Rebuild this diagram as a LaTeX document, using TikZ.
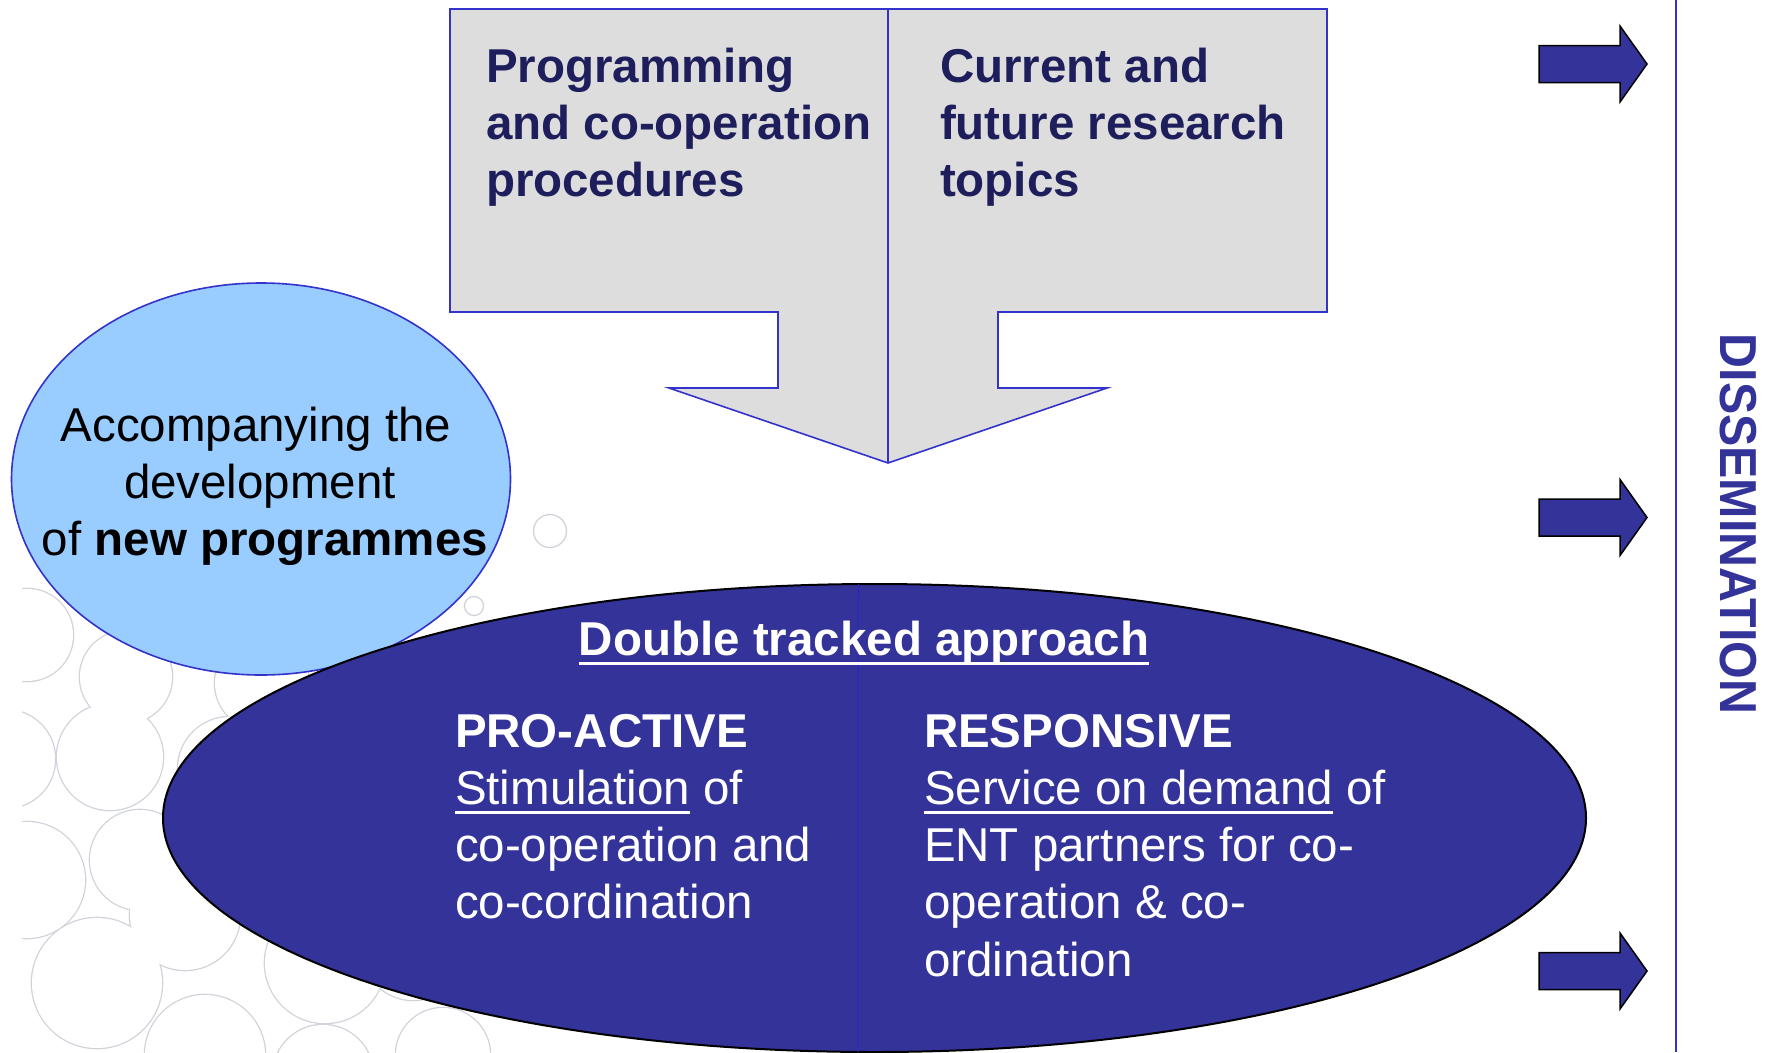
\documentclass[tikz,border=0pt]{standalone}
\usepackage{fontspec}
\setmainfont{Liberation Sans}
\newfontfamily\narrowfont[FakeStretch=0.93]{Liberation Sans}
\usetikzlibrary{shapes.geometric}
\definecolor{navy}{RGB}{30,30,92}
\definecolor{ellblue}{RGB}{51,51,153}
\definecolor{lineblue}{RGB}{51,51,204}
\definecolor{divblue}{RGB}{40,40,190}
\definecolor{boxgray}{RGB}{221,221,221}
\definecolor{lightblue}{RGB}{153,204,255}
\definecolor{bubble}{RGB}{208,212,218}
\newsavebox\ulbox
\newcommand\myul[1]{\sbox\ulbox{#1}\rlap{\rule[-10pt]{\wd\ulbox}{3pt}}\usebox\ulbox}
\begin{document}
\begin{tikzpicture}[x=1pt,y=-1pt,
  every node/.style={inner sep=0pt,outer sep=0pt},
  toptxt/.style={font=\fontsize{47.5}{57}\selectfont\bfseries,text=navy,anchor=base west},
  devtxt/.style={font=\fontsize{47.5}{57}\selectfont,text=black,anchor=base},
  whtxt/.style={font=\fontsize{47.5}{57}\selectfont,text=white,anchor=base west},
  rarrow/.style={fill=ellblue,draw=black,line width=1.5pt,line join=miter},
  ring/.style={draw=bubble,line width=1.3pt}]
\useasboundingbox (0,0) rectangle (1787,1052);
\fill[white] (0,0) rectangle (1787,1052);

% background bubbles (outline of the union of circles)
\begin{scope}
\clip (22,0) rectangle (1787,1052);
\foreach \cx/\cy/\r in {27/635/46,126/677/46,6/759/49,110/757/53,230/769/52,262/683/47,
  27/880/58,140/860/50,185/915/55,97/983/65,205/1055/60,325/963/60,323/1075/50,
  413/950/50,443/1055/47}
  \draw[bubble,line width=2.6pt] (\cx,\cy) circle[radius=\r];
\foreach \cx/\cy/\r in {27/635/46,126/677/46,6/759/49,110/757/53,230/769/52,262/683/47,
  27/880/58,140/860/50,185/915/55,97/983/65,205/1055/60,325/963/60,323/1075/50,
  413/950/50,443/1055/47}
  \fill[white] (\cx,\cy) circle[radius=\r];
\end{scope}
\draw[ring] (550,531) circle[radius=16.5];
\draw[ring] (474,606) circle[radius=9.5];

% top double box arrow
\draw[fill=boxgray,draw=lineblue,line width=1.6pt,line join=miter]
  (450,9) -- (1327,9) -- (1327,312) -- (998,312) -- (998,388) -- (1107,388)
  -- (888,463) -- (669,388) -- (778,388) -- (778,312) -- (450,312) -- cycle;
\draw[lineblue,line width=1.3pt] (888,9) -- (888,463);
\node[toptxt] (p1) at (486,82) {Programming};
\node[toptxt] (p2) at (486,139) {and co-operation};
\node[toptxt] (p3) at (486,196) {procedures};
\node[toptxt] (c1) at (940,82) {Current and};
\node[toptxt] (c2) at (940,139) {future research};
\node[toptxt] (c3) at (940,196) {topics};

% light blue ellipse
\node[ellipse,fill=lightblue,draw=lineblue,line width=1.6pt,
  minimum width=499pt,minimum height=392pt] (dev) at (261,479) {};
\node[devtxt] (d1) at (256,441) {Accompanying the};
\node[devtxt] (d2) at (260,498) {development};
\node[devtxt] (d3) at (265,555) {of \textbf{new programmes}};

% dark ellipse
\node[ellipse,fill=ellblue,draw=black,line width=2pt,
  minimum width=1423pt,minimum height=468pt] (dta) at (874.5,818) {};
\draw[divblue,line width=1pt] (dta.north) ++(-16,0) coordinate (dvt) -- (858,1052) coordinate (dvb);
\node[whtxt,anchor=base,font=\fontsize{47.5}{57}\selectfont\bfseries] (dt) at (864,655) {\myul{Double tracked approach}};
\node[whtxt,font=\fontsize{47.5}{57}\selectfont\bfseries] (pa1) at (455,747) {PRO-ACTIVE};
\node[whtxt] (pa2) at (455,804) {\myul{Stimulation} of};
\node[whtxt] (pa3) at (455,861) {co-operation and};
\node[whtxt] (pa4) at (455,918) {co-cordination};
\node[whtxt,font=\fontsize{47.5}{57}\selectfont\bfseries] (rs1) at (924,747) {RESPONSIVE};
\node[whtxt] (rs2) at (924,804) {\myul{Service on demand} of};
\node[whtxt] (rs3) at (924,861) {ENT partners for co-};
\node[whtxt] (rs4) at (924,918) {operation \& co-};
\node[whtxt] (rs5) at (924,976) {ordination};

% right arrows
\foreach \t in {64,517.5,971}
  \draw[rarrow] (1539,\t-18.5) -- (1620,\t-18.5) -- (1620,\t-38) -- (1647,\t)
    -- (1620,\t+38) -- (1620,\t+18.5) -- (1539,\t+18.5) -- cycle;

% dissemination line and label
\draw[lineblue,line width=2.2pt] (1676,0) coordinate (vt) -- (1676,1052) coordinate (vb);
\node[rotate=-90,text=ellblue,font=\narrowfont\bfseries\fontsize{52}{60}\selectfont] (diss) at (1738,524) {DISSEMINATION};
\end{tikzpicture}
\end{document}
